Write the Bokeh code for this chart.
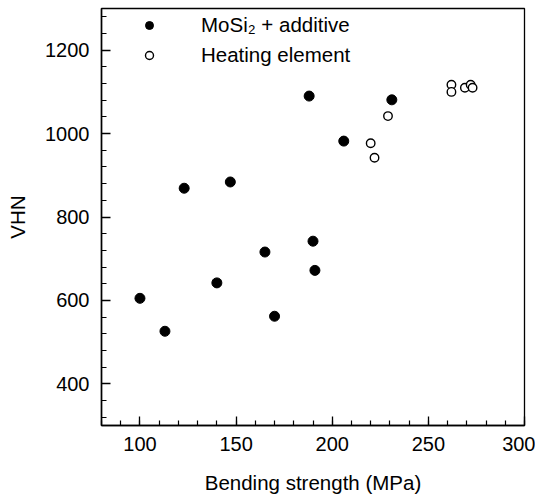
from bokeh.plotting import figure
from bokeh.models import Range1d, SingleIntervalTicker, Legend, LegendItem
from bokeh.embed import file_html
from bokeh.resources import INLINE

# Data
additive_strength = [100, 113, 123, 140, 147, 165, 170, 188, 190, 191, 206, 231]
additive_vhn = [605, 526, 869, 642, 884, 716, 562, 1090, 742, 672, 982, 1081]

heating_strength = [220, 222, 229, 262, 262, 269, 272, 273]
heating_vhn = [977, 942, 1042, 1117, 1100, 1110, 1117, 1110]

x_label = "Bending strength (MPa)"
y_label = "VHN"
legend_labels = ["MoSi\u2082 + additive", "Heating element"]

FONT = "Liberation Sans"
FS_TICK = "20px"
FS_LABEL = "20.5px"

p = figure(width=535, height=496, output_backend="svg", toolbar_location=None,
           x_range=Range1d(80, 300), y_range=Range1d(300, 1300),
           min_border_left=101, min_border_right=11, min_border_top=8, min_border_bottom=71)

p.xgrid.visible = False
p.ygrid.visible = False
p.outline_line_color = "black"
p.outline_line_width = 1.3
p.background_fill_color = "white"
p.border_fill_color = "white"

p.xaxis.ticker = SingleIntervalTicker(interval=50, num_minor_ticks=5)
p.yaxis.ticker = SingleIntervalTicker(interval=200, num_minor_ticks=5)

for ax in (p.xaxis[0], p.yaxis[0]):
    ax.axis_line_color = "black"
    ax.axis_line_width = 1.5
    ax.major_tick_in = 9
    ax.major_tick_out = 0
    ax.minor_tick_in = 5
    ax.minor_tick_out = 0
    ax.major_tick_line_color = "black"
    ax.minor_tick_line_color = "black"
    ax.major_tick_line_width = 1.3
    ax.minor_tick_line_width = 1.2
    ax.major_label_text_font = FONT
    ax.major_label_text_font_size = FS_TICK
    ax.major_label_text_color = "black"
    ax.axis_label_text_font = FONT
    ax.axis_label_text_font_size = FS_LABEL
    ax.axis_label_text_font_style = "normal"
    ax.axis_label_text_color = "black"

p.xaxis.axis_label = x_label
p.yaxis.axis_label = y_label
p.xaxis.major_label_standoff = 11
p.xaxis.axis_label_standoff = 17
p.yaxis.major_label_standoff = 12
p.yaxis.axis_label_standoff = 13

r_add = p.scatter(additive_strength, additive_vhn, marker="circle", size=10,
                  fill_color="black", line_color="black")
r_heat = p.scatter(heating_strength, heating_vhn, marker="circle", size=8.5,
                   fill_color="white", line_color="black", line_width=1.4)

legend = Legend(items=[LegendItem(label=legend_labels[0], renderers=[r_add]),
                       LegendItem(label=legend_labels[1], renderers=[r_heat])],
                location=(38, 358), orientation="vertical",
                glyph_width=20, glyph_height=20, label_height=20,
                label_standoff=42, spacing=6, padding=0, margin=0,
                border_line_color=None, background_fill_alpha=0,
                label_text_font=FONT, label_text_font_size=FS_LABEL,
                label_text_color="black")
p.add_layout(legend, "center")

open("out.html", "w").write(file_html(p, INLINE))
